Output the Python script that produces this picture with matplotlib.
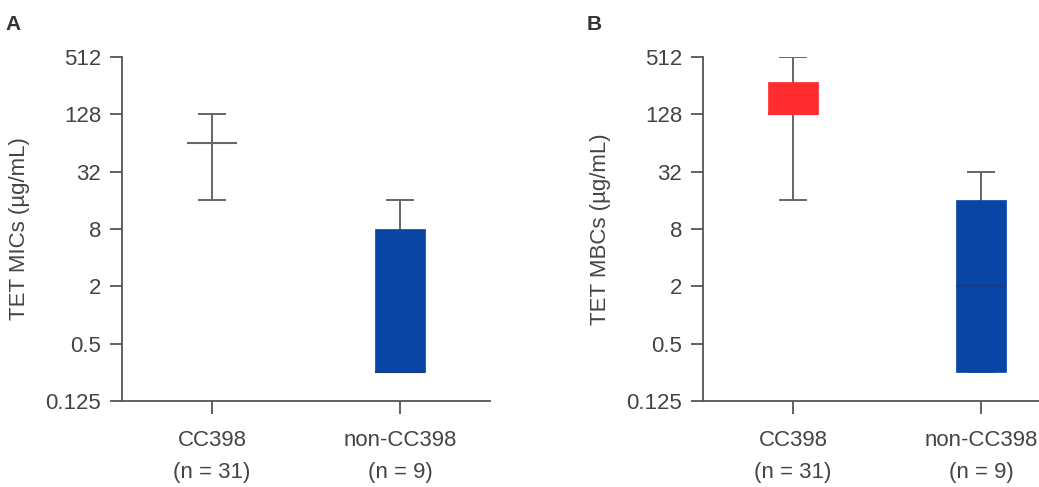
import matplotlib
matplotlib.use("Agg")
import matplotlib.pyplot as plt
import numpy as np

plt.rcParams['font.family'] = ['Liberation Sans', 'DejaVu Sans']

groups = ["CC398", "non-CC398"]
group_n = ["(n = 31)", "(n = 9)"]
ytick_vals = [0.125, 0.5, 2, 8, 32, 128, 512]
ytick_labels = ["0.125", "0.5", "2", "8", "32", "128", "512"]

# Panel A: TET MICs  (whisker low, Q1, median, Q3, whisker high)
mic_whislo = [16, 0.25]
mic_q1 = [64, 0.25]
mic_med = [64, 0.25]
mic_q3 = [64, 8]
mic_whishi = [128, 16]
mic_colors = ["#FFFFFF", "#0845A5"]

# Panel B: TET MBCs
mbc_whislo = [16, 0.25]
mbc_q1 = [128, 0.25]
mbc_med = [128, 2]
mbc_q3 = [280, 16]
mbc_whishi = [512, 32]
mbc_colors = ["#FF2C30", "#0845A5"]
mbc_median_colors = ["#FF2C30", "#1B3A86"]

W, H = 1039, 487
fig = plt.figure(figsize=(W / 100, H / 100), dpi=100)

axis_col = "#555555"
text_col = "#444444"
whisk_col = "#666666"

def make_axes(left_px):
    top, bottom = 57, 401
    width = 368
    return fig.add_axes([left_px / W, (H - bottom) / H, width / W, (bottom - top) / H])

def draw(ax, lo, q1, med, q3, hi, colors, medcolors, ylabel):
    stats = []
    for i in range(len(groups)):
        stats.append(dict(whislo=lo[i], q1=q1[i], med=med[i], q3=q3[i], whishi=hi[i], fliers=[]))
    bp = ax.bxp(stats, positions=[0, 1], widths=0.266, patch_artist=True,
                showfliers=False, capwidths=0.14,
                whiskerprops=dict(color=whisk_col, lw=1.4),
                capprops=dict(color=whisk_col, lw=1.4))
    for i, box in enumerate(bp['boxes']):
        box.set_facecolor(colors[i])
        box.set_edgecolor(colors[i] if colors[i] != "#FFFFFF" else "none")
        box.set_linewidth(0.5)
        box.set_zorder(3)
    for i, m in enumerate(bp['medians']):
        m.set_color(medcolors[i])
        m.set_linewidth(1.5)
        m.set_zorder(4)
    ax.set_yscale('log', base=2)
    ax.set_ylim(0.125, 512)
    ax.set_xlim(-0.479, 1.479)
    ax.set_yticks(ytick_vals)
    ax.set_yticklabels(ytick_labels)
    ax.minorticks_off()
    ax.set_xticks([0, 1])
    ax.set_xticklabels([f"{g}\n{n}" for g, n in zip(groups, group_n)],
                       linespacing=1.65, fontsize=16, color=text_col)
    for s in ['top', 'right']:
        ax.spines[s].set_visible(False)
    for s in ['left', 'bottom']:
        ax.spines[s].set_color(axis_col)
        ax.spines[s].set_linewidth(1.3)
    ax.tick_params(axis='y', direction='out', length=9, width=1.3, color=axis_col,
                   labelsize=16, labelcolor=text_col, pad=6)
    ax.tick_params(axis='x', direction='out', length=9, width=1.3, color=axis_col,
                   pad=12)
    ax.set_ylabel(ylabel, fontsize=16, color=text_col, labelpad=11)

axA = make_axes(122)
draw(axA, mic_whislo, mic_q1, mic_med, mic_q3, mic_whishi, mic_colors,
     [whisk_col, "#1B3A86"], "TET MICs (µg/mL)")
axB = make_axes(703)
draw(axB, mbc_whislo, mbc_q1, mbc_med, mbc_q3, mbc_whishi, mbc_colors,
     mbc_median_colors, "TET MBCs (µg/mL)")

fig.text(5 / W, 1 - 25 / H, "A", fontsize=15, fontweight='bold', color="#333333", va='center')
fig.text(587 / W, 1 - 25 / H, "B", fontsize=15, fontweight='bold', color="#333333", va='center')

fig.savefig("out.png", dpi=100)
